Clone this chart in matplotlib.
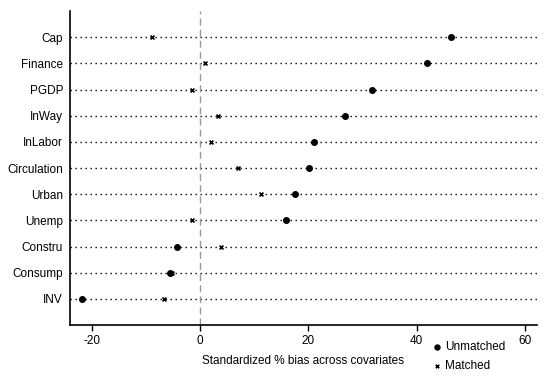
import matplotlib.pyplot as plt

plt.rcParams['font.family'] = ['Liberation Sans', 'DejaVu Sans']

# covariates, top to bottom
covariates = ["Cap", "Finance", "PGDP", "InWay", "InLabor", "Circulation",
              "Urban", "Unemp", "Constru", "Consump", "INV"]
unmatched = [46.3, 41.9, 31.7, 26.8, 21.1, 20.2, 17.5, 15.9, -4.3, -5.5, -21.8]
matched = [-8.9, 1.0, -1.5, 3.3, 2.0, 7.0, 11.3, -1.5, 3.9, -5.2, -6.6]
xticks = [-20, 0, 20, 40, 60]

fig = plt.figure(figsize=(5.5, 3.82), dpi=100)
ax = fig.add_axes([0.1273, 0.1492, 0.8487, 0.8218])

n = len(covariates)
ypos = [n - i for i in range(n)]

for y in ypos:
    ax.axhline(y, color="black", lw=1.0, ls=(0, (1, 2.6)), zorder=1)
ax.axvline(0, color="#999999", lw=1.0, ls=(0, (5, 3)), zorder=1)

ax.scatter(unmatched, ypos, s=16, marker="o", color="black", zorder=3,
           label="Unmatched")
ax.scatter(matched, ypos, s=8, marker="x", color="black", lw=1.2, zorder=3,
           label="Matched")

ax.set_xlim(-24, 62.2)
ax.set_ylim(0, n + 1)
ax.set_yticks(ypos)
ax.set_yticklabels(covariates, fontsize=8.5)
ax.set_xticks(xticks)
ax.set_xticklabels([str(t) for t in xticks], fontsize=8.5)
ax.tick_params(axis="y", length=0, pad=5)
ax.tick_params(axis="x", length=4, width=1, pad=3)
ax.spines["top"].set_visible(False)
ax.spines["right"].set_visible(False)
ax.spines["left"].set_linewidth(1.2)
ax.spines["bottom"].set_linewidth(1.2)
ax.set_xlabel("Standardized % bias across covariates", fontsize=8.5, labelpad=6)

fig.legend(loc="upper left", bbox_to_anchor=(0.775, 0.12), frameon=False,
           fontsize=8.5, handletextpad=0.2, borderaxespad=0, labelspacing=0.6,
           handlelength=1.0, markerscale=0.9)

fig.savefig("out.png", dpi=100)
